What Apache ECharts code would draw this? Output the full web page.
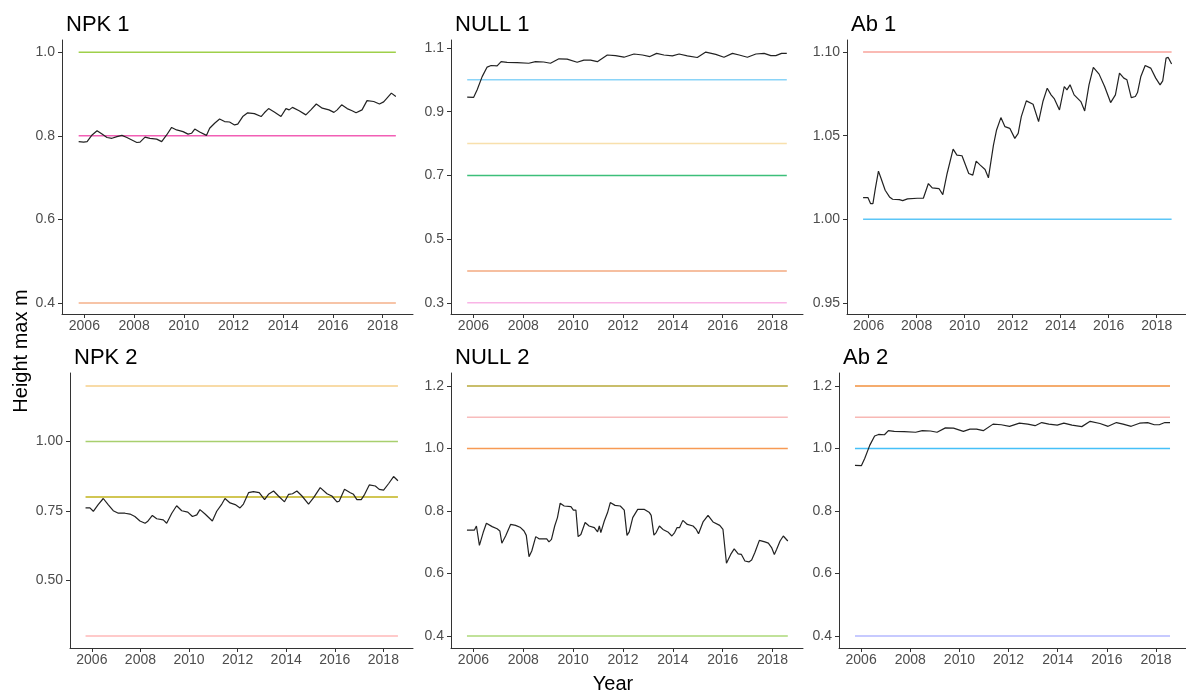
<!DOCTYPE html>
<html><head><meta charset="utf-8">
<script src="https://cdn.jsdelivr.net/npm/echarts@6/dist/echarts.min.js"></script>
<style>html,body{margin:0;padding:0;background:#fff}#c{width:1186px;height:693px}</style>
</head><body><div id="c"></div>
<script>
// ---------------- DATA ----------------
const panelTitles = ['NPK 1', 'NULL 1', 'Ab 1', 'NPK 2', 'NULL 2', 'Ab 2'];
const xTicks = [2006, 2008, 2010, 2012, 2014, 2016, 2018];
const xRange = [2005.1, 2019.22];

const npk1 = [[2005.77,0.786],[2005.97,0.785],[2006.11,0.786],[2006.31,0.802],[2006.51,0.812],[2006.71,0.804],[2006.91,0.796],[2007.11,0.794],[2007.31,0.798],[2007.51,0.801],[2007.71,0.796],[2007.91,0.790],[2008.11,0.784],[2008.24,0.785],[2008.44,0.797],[2008.64,0.794],[2008.91,0.792],[2009.11,0.786],[2009.31,0.802],[2009.51,0.820],[2009.71,0.814],[2009.97,0.810],[2010.17,0.804],[2010.31,0.806],[2010.44,0.816],[2010.64,0.809],[2010.91,0.801],[2011.04,0.818],[2011.24,0.830],[2011.44,0.840],[2011.64,0.834],[2011.84,0.833],[2012.04,0.826],[2012.17,0.828],[2012.37,0.846],[2012.57,0.855],[2012.84,0.853],[2013.11,0.846],[2013.24,0.855],[2013.41,0.865],[2013.64,0.857],[2013.91,0.846],[2014.11,0.865],[2014.24,0.862],[2014.37,0.868],[2014.64,0.860],[2014.91,0.850],[2015.11,0.862],[2015.33,0.876],[2015.57,0.866],[2015.84,0.862],[2016.04,0.856],[2016.17,0.862],[2016.35,0.874],[2016.57,0.865],[2016.77,0.860],[2016.93,0.855],[2017.17,0.862],[2017.37,0.884],[2017.64,0.882],[2017.87,0.876],[2018.04,0.881],[2018.35,0.902],[2018.53,0.894]];

const null1 = [[2005.75,0.946],[2006.01,0.945],[2006.15,0.969],[2006.35,1.010],[2006.55,1.040],[2006.71,1.045],[2006.95,1.044],[2007.11,1.057],[2007.35,1.055],[2007.75,1.054],[2008.22,1.052],[2008.49,1.057],[2008.82,1.056],[2009.09,1.052],[2009.43,1.066],[2009.76,1.065],[2010.16,1.055],[2010.43,1.062],[2010.70,1.062],[2010.97,1.057],[2011.37,1.078],[2011.70,1.076],[2012.04,1.071],[2012.44,1.081],[2012.78,1.078],[2013.08,1.073],[2013.35,1.083],[2013.64,1.078],[2013.98,1.075],[2014.25,1.081],[2014.58,1.075],[2014.98,1.070],[2015.32,1.087],[2015.72,1.080],[2016.05,1.071],[2016.39,1.083],[2016.66,1.078],[2016.99,1.071],[2017.33,1.081],[2017.66,1.083],[2017.93,1.076],[2018.13,1.076],[2018.36,1.083],[2018.57,1.083]];

const ab1 = [[2005.77,1.0130],[2005.97,1.0130],[2006.08,1.0094],[2006.18,1.0094],[2006.28,1.0184],[2006.41,1.0288],[2006.52,1.0244],[2006.69,1.0174],[2006.87,1.0134],[2007.00,1.0120],[2007.28,1.0118],[2007.42,1.0112],[2007.62,1.0122],[2008.03,1.0126],[2008.28,1.0126],[2008.49,1.0214],[2008.65,1.0188],[2008.93,1.0184],[2009.09,1.0148],[2009.27,1.0274],[2009.52,1.0420],[2009.68,1.0384],[2009.89,1.0380],[2010.17,1.0274],[2010.34,1.0264],[2010.48,1.0348],[2010.65,1.0324],[2010.85,1.0298],[2010.99,1.0248],[2011.20,1.0444],[2011.33,1.0534],[2011.51,1.0608],[2011.68,1.0554],[2011.88,1.0544],[2012.09,1.0484],[2012.23,1.0514],[2012.36,1.0614],[2012.57,1.0708],[2012.85,1.0688],[2013.08,1.0584],[2013.26,1.0704],[2013.44,1.0784],[2013.60,1.0744],[2013.74,1.0720],[2013.95,1.0654],[2014.15,1.0794],[2014.26,1.0774],[2014.39,1.0804],[2014.56,1.0744],[2014.84,1.0704],[2015.00,1.0648],[2015.18,1.0804],[2015.36,1.0908],[2015.60,1.0868],[2015.83,1.0794],[2016.08,1.0698],[2016.28,1.0744],[2016.45,1.0874],[2016.63,1.0844],[2016.76,1.0834],[2016.94,1.0728],[2017.11,1.0734],[2017.20,1.0758],[2017.34,1.0854],[2017.52,1.0920],[2017.75,1.0904],[2017.96,1.0844],[2018.14,1.0804],[2018.25,1.0828],[2018.39,1.0964],[2018.48,1.0968],[2018.62,1.0928]];

const npk2 = [[2005.74,0.761],[2005.92,0.761],[2006.06,0.749],[2006.26,0.773],[2006.47,0.795],[2006.67,0.773],[2006.88,0.751],[2007.09,0.742],[2007.36,0.742],[2007.57,0.739],[2007.77,0.730],[2007.98,0.714],[2008.19,0.706],[2008.29,0.712],[2008.49,0.734],[2008.67,0.722],[2008.94,0.718],[2009.08,0.706],[2009.29,0.742],[2009.49,0.769],[2009.70,0.751],[2009.95,0.746],[2010.14,0.730],[2010.32,0.736],[2010.45,0.755],[2010.66,0.739],[2010.96,0.714],[2011.14,0.749],[2011.35,0.775],[2011.48,0.795],[2011.69,0.779],[2011.90,0.773],[2012.10,0.761],[2012.24,0.775],[2012.45,0.816],[2012.65,0.820],[2012.89,0.816],[2013.11,0.791],[2013.27,0.810],[2013.48,0.822],[2013.68,0.804],[2013.93,0.783],[2014.10,0.810],[2014.26,0.812],[2014.44,0.822],[2014.65,0.804],[2014.92,0.775],[2015.13,0.798],[2015.40,0.834],[2015.68,0.812],[2015.88,0.804],[2016.09,0.783],[2016.18,0.785],[2016.40,0.828],[2016.64,0.816],[2016.77,0.810],[2016.91,0.791],[2017.09,0.791],[2017.23,0.810],[2017.42,0.844],[2017.67,0.840],[2017.83,0.828],[2018.01,0.825],[2018.22,0.849],[2018.42,0.874],[2018.60,0.859]];

const null2 = [[2005.74,0.739],[2006.04,0.739],[2006.12,0.752],[2006.24,0.690],[2006.39,0.731],[2006.52,0.761],[2006.75,0.750],[2006.95,0.743],[2007.06,0.736],[2007.14,0.697],[2007.29,0.720],[2007.36,0.725],[2007.49,0.757],[2007.69,0.754],[2007.89,0.747],[2008.03,0.736],[2008.12,0.722],[2008.23,0.654],[2008.34,0.672],[2008.50,0.718],[2008.63,0.711],[2008.94,0.711],[2009.03,0.701],[2009.13,0.709],[2009.26,0.752],[2009.37,0.779],[2009.48,0.825],[2009.64,0.816],[2009.91,0.814],[2010.01,0.803],[2010.11,0.803],[2010.20,0.718],[2010.31,0.725],[2010.48,0.763],[2010.64,0.752],[2010.85,0.747],[2010.98,0.733],[2011.05,0.752],[2011.11,0.731],[2011.25,0.768],[2011.38,0.795],[2011.49,0.827],[2011.68,0.818],[2011.89,0.816],[2012.05,0.803],[2012.16,0.722],[2012.25,0.733],[2012.39,0.779],[2012.59,0.805],[2012.86,0.805],[2013.06,0.795],[2013.13,0.786],[2013.24,0.723],[2013.33,0.731],[2013.46,0.752],[2013.60,0.741],[2013.80,0.733],[2013.96,0.720],[2014.07,0.731],[2014.17,0.747],[2014.27,0.747],[2014.40,0.770],[2014.58,0.757],[2014.81,0.752],[2014.94,0.741],[2015.03,0.727],[2015.21,0.765],[2015.41,0.786],[2015.61,0.765],[2015.88,0.754],[2016.01,0.741],[2016.15,0.633],[2016.32,0.661],[2016.46,0.679],[2016.62,0.663],[2016.75,0.661],[2016.89,0.640],[2017.05,0.637],[2017.16,0.643],[2017.29,0.667],[2017.47,0.706],[2017.69,0.701],[2017.83,0.697],[2017.96,0.683],[2018.07,0.661],[2018.16,0.677],[2018.30,0.704],[2018.43,0.720],[2018.61,0.704]];

const ab2 = null1;

// reference levels (horizontal lines) per panel
const npk1Levels = [1.0, 0.8, 0.4];
const null1Levels = [1.0, 0.8, 0.7, 0.4, 0.3];
const ab1Levels = [1.1, 1.0];
const npk2Levels = [1.2, 1.0, 0.8, 0.3];
const null2Levels = [1.2, 1.1, 1.0, 0.4];
const ab2Levels = [1.2, 1.1, 1.0, 0.4];

// y tick labels per panel
const npk1YTicks = [0.4, 0.6, 0.8, 1.0];
const null1YTicks = [0.3, 0.5, 0.7, 0.9, 1.1];
const ab1YTicks = [0.95, 1.00, 1.05, 1.10];
const npk2YTicks = [0.50, 0.75, 1.00];
const null2YTicks = [0.4, 0.6, 0.8, 1.0, 1.2];
const ab2YTicks = [0.4, 0.6, 0.8, 1.0, 1.2];

// ---------------- STYLE / LAYOUT ----------------
const panels = [
  {series: npk1, levels: npk1Levels, ticks: npk1YTicks, dec: 1, yr: [0.374, 1.029],
   colors: ['#9fd04a', '#f25fb5', '#f5b08a'], grid: {left: 62, top: 40, width: 351, height: 274}},
  {series: null1, levels: null1Levels, ticks: null1YTicks, dec: 1, yr: [0.265, 1.125],
   colors: ['#8ad4f8', '#f8e0ac', '#3cbf7a', '#f3aa80', '#f9b4e6'], grid: {left: 451, top: 40, width: 352, height: 274}},
  {series: ab1, levels: ab1Levels, ticks: ab1YTicks, dec: 2, yr: [0.9434, 1.1072],
   colors: ['#f9a39b', '#5cc6f7'], grid: {left: 847, top: 40, width: 345, height: 274}},
  {series: npk2, levels: npk2Levels, ticks: npk2YTicks, dec: 2, yr: [0.2568, 1.2468],
   colors: ['#f6cf8a', '#a8cf6e', '#c2b31a', '#ffb8b8'], grid: {left: 70, top: 373, width: 343, height: 275}},
  {series: null2, levels: null2Levels, ticks: null2YTicks, dec: 1, yr: [0.3616, 1.2416],
   colors: ['#b7a93a', '#f8bcbc', '#f79a54', '#acd978'], grid: {left: 451, top: 373, width: 352, height: 275}},
  {series: ab2, levels: ab2Levels, ticks: ab2YTicks, dec: 1, yr: [0.3616, 1.2416],
   colors: ['#f2903e', '#f8b8b4', '#45c0f8', '#b4b8ff'], grid: {left: 839, top: 373, width: 349, height: 275}}
];

const FONT = '"Liberation Sans", Arial, sans-serif';
const axisCol = '#333333';
const labCol = '#4d4d4d';

const grids = [], xAxes = [], yAxes = [], series = [], titles = [];
panels.forEach((p, i) => {
  grids.push(Object.assign({containLabel: false}, p.grid));
  xAxes.push({
    type: 'value', gridIndex: i, min: xRange[0], max: xRange[1],
    splitLine: {show: false},
    axisLine: {show: true, onZero: false, lineStyle: {color: axisCol, width: 1}},
    axisTick: {show: true, length: 4, customValues: xTicks, lineStyle: {color: axisCol}},
    axisLabel: {customValues: xTicks, color: labCol, fontSize: 14, fontFamily: FONT, margin: 5,
      formatter: v => String(Math.round(v))}
  });
  yAxes.push({
    type: 'value', gridIndex: i, min: p.yr[0], max: p.yr[1],
    splitLine: {show: false},
    axisLine: {show: true, onZero: false, lineStyle: {color: axisCol, width: 1}},
    axisTick: {show: true, length: 4, customValues: p.ticks, lineStyle: {color: axisCol}},
    axisLabel: {customValues: p.ticks, color: labCol, fontSize: 14, fontFamily: FONT, margin: 7,
      formatter: v => v.toFixed(p.dec)}
  });
  const x0 = p.series[0][0], x1 = p.series[p.series.length - 1][0];
  p.levels.forEach((lv, k) => {
    series.push({
      type: 'line', xAxisIndex: i, yAxisIndex: i, data: [[x0, lv], [x1, lv]],
      showSymbol: false, silent: true, animation: false,
      lineStyle: {color: p.colors[k], width: 1.5}, z: 2
    });
  });
  series.push({
    type: 'line', xAxisIndex: i, yAxisIndex: i, data: p.series,
    showSymbol: false, silent: true, animation: false,
    lineStyle: {color: '#222222', width: 1.2}, z: 3
  });
  titles.push({
    text: panelTitles[i], left: p.grid.left - 1, top: i < 3 ? 9 : 342,
    textStyle: {fontSize: 22, fontWeight: 'normal', color: '#000', fontFamily: FONT}
  });
});

const chart = echarts.init(document.getElementById('c'), null, {renderer: 'canvas'});
chart.setOption({
  backgroundColor: '#ffffff',
  animation: false,
  title: titles,
  grid: grids, xAxis: xAxes, yAxis: yAxes, series: series,
  graphic: [
    {type: 'text', x: 21, y: 351, rotation: Math.PI / 2,
     style: {text: 'Height max m', fontSize: 20, fontFamily: FONT, fill: '#000', align: 'center', verticalAlign: 'middle'}},
    {type: 'text', x: 613, y: 684,
     style: {text: 'Year', fontSize: 20, fontFamily: FONT, fill: '#000', align: 'center', verticalAlign: 'middle'}}
  ]
});
</script></body></html>
